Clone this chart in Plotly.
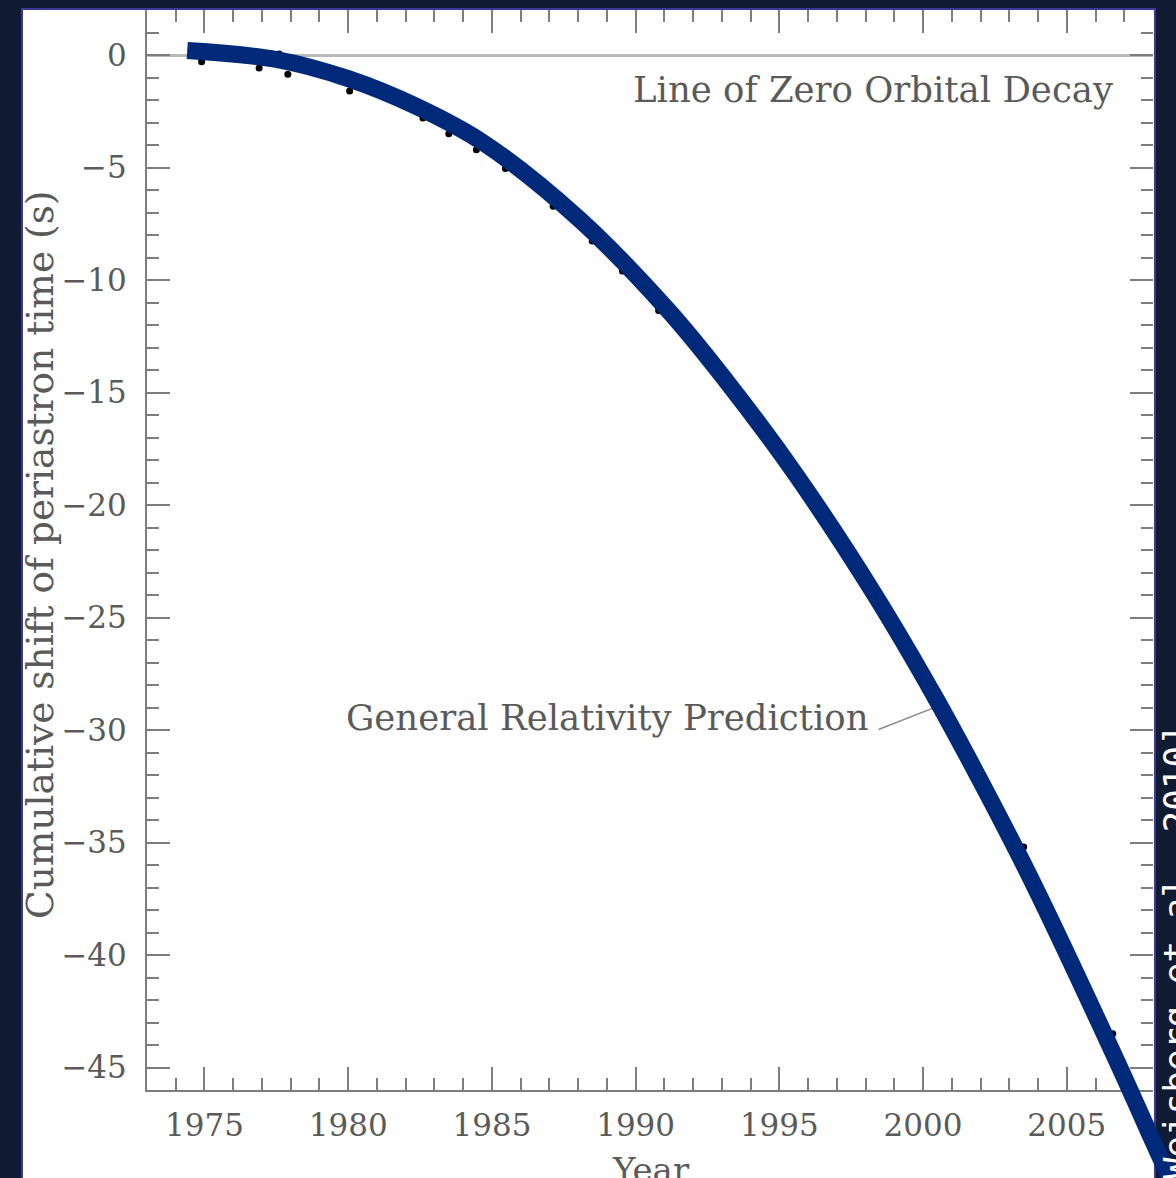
import plotly.graph_objects as go

W, H = 1176, 1178

# Measured cumulative shift of periastron time (s)
obs_year = [1974.9, 1976.9, 1977.6, 1977.9, 1980.05, 1982.6, 1983.5, 1984.46,
            1985.47, 1987.13, 1988.49, 1989.54, 1990.8, 2003.5, 2006.6]
obs_shift = [-0.3, -0.58, 0.04, -0.85, -1.6, -2.8, -3.5, -4.21,
             -5.04, -6.72, -8.27, -9.6, -11.35, -35.2, -43.5]

# General Relativity prediction curve
gr_year = [1974.4, 1977.5, 1980.0, 1982.4, 1984.7, 1988.0, 1991.1,
           1993.1, 1995.6, 1998.3, 2000.4, 2002.2, 2003.9, 2006.7, 2008.4, 2008.75]
gr_shift = [0.20, -0.2, -1.05, -2.3, -3.9, -7.25, -11.3,
            -14.4, -18.7, -23.95, -28.5, -32.75, -37.0, -44.6, -49.4, -50.3]

x_range = [1973, 2008]
y_range = [-46, 2]
x_tick_step = 5
y_tick_step = 5

# plot-frame placement in pixels
PX_L, PX_R, PX_T, PX_B = 147, 1153, 10, 1090

# full-canvas axes sharing the same scale, so the prediction curve can run past the frame
sx = (x_range[1] - x_range[0]) / (PX_R - PX_L)
sy = (y_range[1] - y_range[0]) / (PX_B - PX_T)
x_full = [x_range[0] - PX_L * sx, x_range[1] + (W - PX_R) * sx]
y_full = [y_range[0] - (H - PX_B) * sy, y_range[1] + PX_T * sy]

BG = "#101a32"
AXIS = "#7d7d7d"
TEXT = "#5a5a5a"
SERIF = "DejaVu Serif"

fig = go.Figure()

fig.add_trace(go.Scatter(
    x=obs_year, y=obs_shift, mode="markers",
    marker=dict(color="black", size=7),
    xaxis="x", yaxis="y", showlegend=False, hoverinfo="skip",
))
# tick-only companion axes (top and right)
fig.add_trace(go.Scatter(x=[], y=[], xaxis="x3", yaxis="y", showlegend=False))
fig.add_trace(go.Scatter(x=[], y=[], xaxis="x", yaxis="y3", showlegend=False))

fig.add_trace(go.Scatter(
    x=gr_year, y=gr_shift, mode="lines",
    line=dict(color="#00297a", width=17, shape="spline", smoothing=1.0),
    xaxis="x2", yaxis="y2", showlegend=False, hoverinfo="skip",
))

tick_font = dict(family=SERIF, size=31, color=TEXT)
minor = dict(ticks="inside", ticklen=12, tickwidth=2, tickcolor=AXIS, showgrid=False)

common_x = dict(range=x_range, domain=[PX_L / W, PX_R / W], showgrid=False, zeroline=False,
                ticks="inside", ticklen=23, tickwidth=2, tickcolor=AXIS,
                dtick=x_tick_step, tick0=1975, minor=dict(dtick=1, **minor))
common_y = dict(range=y_range, domain=[1 - PX_B / H, 1 - PX_T / H], showgrid=False,
                ticks="inside", ticklen=23, tickwidth=2, tickcolor=AXIS,
                dtick=y_tick_step, tick0=0, minor=dict(dtick=1, **minor))

label_font = dict(family=SERIF, size=35.5, color=TEXT)

fig.update_layout(
    width=W, height=H,
    margin=dict(l=0, r=0, t=0, b=0),
    paper_bgcolor=BG,
    plot_bgcolor="rgba(0,0,0,0)",
    xaxis=dict(**common_x, anchor="y", showline=True, linecolor=AXIS, linewidth=2,
               tickfont=tick_font, ticklabelstandoff=7),
    yaxis=dict(**common_y, anchor="x", showline=True, linecolor=AXIS, linewidth=2,
               zeroline=True, zerolinecolor="#b9b9b9", zerolinewidth=3,
               tickfont=tick_font, ticklabelstandoff=12),
    xaxis3=dict(**common_x, overlaying="x", side="top", anchor="y",
                showline=False, showticklabels=False),
    yaxis3=dict(**common_y, overlaying="y", side="right", anchor="x",
                showline=False, showticklabels=False, zeroline=False),
    xaxis2=dict(range=x_full, domain=[0, 1], anchor="y2", visible=False),
    yaxis2=dict(range=y_full, domain=[0, 1], anchor="x2", visible=False),
    shapes=[
        dict(type="rect", xref="paper", yref="paper",
             x0=22 / W, x1=1155 / W, y0=-0.05, y1=1 - 9 / H,
             fillcolor="white", line=dict(color="#3a3a94", width=2), layer="below"),
        dict(type="line", xref="x", yref="y",
             x0=1998.45, y0=-29.98, x1=2000.5, y1=-28.95,
             line=dict(color="#8a8a8a", width=1.5), layer="below"),
    ],
    annotations=[
        dict(text="Line of Zero Orbital Decay", x=2006.68, y=-1.55, xref="x", yref="y",
             xanchor="right", yanchor="middle", showarrow=False, font=label_font),
        dict(text="General Relativity Prediction", x=1998.2, y=-29.45, xref="x", yref="y",
             xanchor="right", yanchor="middle", showarrow=False, font=label_font),
        dict(text="Cumulative shift of periastron time (s)", x=40 / W, y=1 - 555 / H,
             xref="paper", yref="paper", textangle=-90, showarrow=False,
             xanchor="center", yanchor="middle",
             font=dict(family=SERIF, size=37.5, color=TEXT)),
        dict(text="Year", x=651 / W, y=1 - 1170 / H, xref="paper", yref="paper",
             showarrow=False, xanchor="center", yanchor="middle",
             font=dict(family=SERIF, size=34, color=TEXT)),
        dict(text="[Weisberg et al. 2010]", x=1176 / W, y=1 - 963 / H,
             xref="paper", yref="paper", textangle=-90, showarrow=False,
             xanchor="center", yanchor="middle",
             font=dict(family="DejaVu Sans Mono", size=36, color="white")),
    ],
)

fig.write_html("out.html")
